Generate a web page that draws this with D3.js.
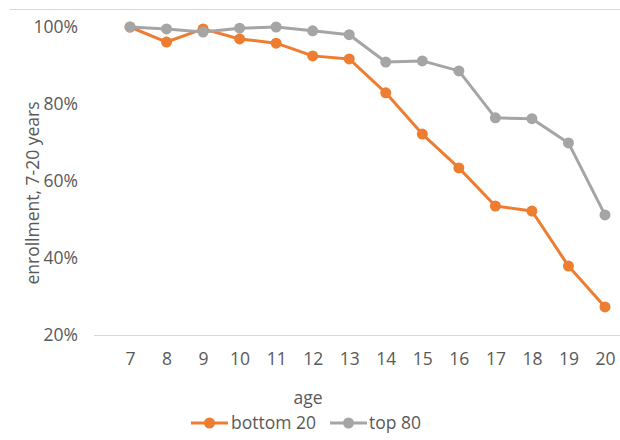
<!DOCTYPE html>
<html><head><meta charset="utf-8">
<script src="https://cdn.jsdelivr.net/npm/d3@7"></script>
<style>body{margin:0;background:#fff}svg{display:block}text{font-family:"Open Sans","Noto Sans",sans-serif;fill:#595959}</style>
</head><body><svg id="c" width="620" height="440"></svg>
<script>
const ages = ["7","8","9","10","11","12","13","14","15","16","17","18","19","20"];
const bottom20 = [1.000,0.961,0.995,0.969,0.958,0.925,0.917,0.829,0.722,0.634,0.535,0.522,0.379,0.273];
const top80 = [1.000,0.995,0.987,0.997,1.000,0.990,0.980,0.909,0.912,0.886,0.764,0.762,0.699,0.512];
const yTicks = [0.2,0.4,0.6,0.8,1.0];
const seriesNames = ["bottom 20","top 80"];
const colors = ["#ED7D31","#A5A5A5"];
const FS = 17.5;

const svg = d3.select("#c");
const x = d3.scalePoint().domain(ages).range([130,605]);
const y = d3.scaleLinear().domain([0.2,1.0]).range([335,27]);

// chart border (top)
svg.append("line").attr("x1",10).attr("x2",620).attr("y1",9.5).attr("y2",9.5).attr("stroke","#d9d9d9");

// baseline
svg.append("line").attr("x1",94).attr("x2",620).attr("y1",y(0.2)+0.5).attr("y2",y(0.2)+0.5).attr("stroke","#d9d9d9").attr("stroke-width",1);

// y axis
const ya = svg.append("g").attr("transform","translate(79,0)")
  .call(d3.axisLeft(y).tickValues(yTicks).tickFormat(d3.format(".0%")).tickSize(0).tickPadding(1));
ya.select(".domain").remove();
ya.selectAll("text").attr("font-size",FS).style("font-family",'"Open Sans",sans-serif').attr("fill","#595959");

// x axis
const xa = svg.append("g").attr("transform","translate(0,"+(y(0.2))+")")
  .call(d3.axisBottom(x).tickSize(0).tickPadding(18));
xa.select(".domain").remove();
xa.selectAll("text").attr("font-size",FS).style("font-family",'"Open Sans",sans-serif').attr("fill","#595959");

// axis titles
svg.append("text").attr("x",308).attr("y",404).attr("text-anchor","middle").attr("font-size",FS).text("age");
svg.append("text").attr("transform","translate(39,193) rotate(-90)").attr("text-anchor","middle").attr("font-size",FS).text("enrollment, 7-20 years");

const line = d3.line().x((d,i)=>x(ages[i])).y(d=>y(d));
[bottom20, top80].forEach((s,k)=>{
  svg.append("path").datum(s).attr("d",line).attr("fill","none").attr("stroke",colors[k]).attr("stroke-width",3).attr("stroke-linejoin","round");
  svg.selectAll(null).data(s).enter().append("circle")
    .attr("cx",(d,i)=>x(ages[i])).attr("cy",d=>y(d)).attr("r",5.5).attr("fill",colors[k]);
});

// legend
const leg = [{x0:191,tx:231},{x0:330,tx:369}];
seriesNames.forEach((n,k)=>{
  const g = svg.append("g");
  g.append("line").attr("x1",leg[k].x0).attr("x2",leg[k].x0+37).attr("y1",423).attr("y2",423).attr("stroke",colors[k]).attr("stroke-width",3);
  g.append("circle").attr("cx",leg[k].x0+18.5).attr("cy",423).attr("r",5.5).attr("fill",colors[k]);
  g.append("text").attr("x",leg[k].tx).attr("y",429).attr("font-size",FS).text(n);
});
</script></body></html>
